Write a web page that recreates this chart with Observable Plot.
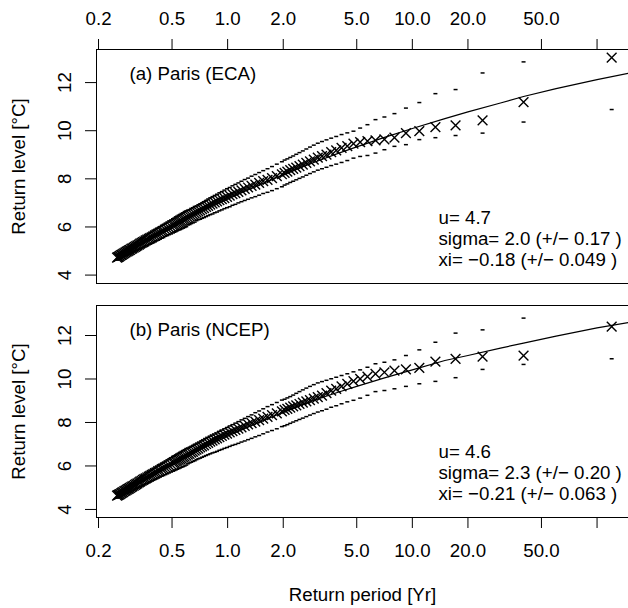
<!DOCTYPE html>
<html>
<head>
<meta charset="utf-8">
<script src="https://cdn.jsdelivr.net/npm/d3@7"></script>
<script src="https://cdn.jsdelivr.net/npm/@observablehq/plot@0.6"></script>
<style>
  html, body { margin: 0; padding: 0; background: #fff; }
  #chart svg { display: block; }
</style>
</head>
<body>
<div id="chart"></div>
<script>
// ---- data ----
const returnPeriod = [
  120, 40, 24, 17.14, 13.33, 10.91, 9.231, 8, 7.059, 6.316, 5.714, 5.217, 4.8, 4.444, 4.138, 3.871, 3.636, 3.429, 3.243, 3.077,
  2.927, 2.791, 2.667, 2.553, 2.449, 2.353, 2.264, 2.182, 2.105, 2.034,
  1.967, 1.846, 1.739, 1.644, 1.558, 1.481, 1.412, 1.348, 1.290, 1.237, 1.188, 1.143, 1.101, 1.062, 1.026,
  0.992, 0.960, 0.930, 0.902, 0.876, 0.851, 0.828, 0.805, 0.784, 0.764, 0.745, 0.727, 0.710, 0.694, 0.678,
  0.663, 0.649, 0.635, 0.622, 0.609, 0.597, 0.585, 0.574, 0.563, 0.553, 0.543, 0.533, 0.524, 0.515, 0.506,
  0.494, 0.482, 0.471, 0.460, 0.449, 0.440, 0.430, 0.421, 0.412, 0.404, 0.396, 0.388, 0.381, 0.374, 0.367,
  0.360, 0.354, 0.348, 0.342, 0.336, 0.331, 0.325, 0.320, 0.315, 0.310, 0.305, 0.301, 0.296, 0.292, 0.288,
  0.284, 0.280, 0.276, 0.272, 0.268, 0.265, 0.261, 0.258, 0.255, 0.252
];

const ecaLevel = [
  13.04, 11.19, 10.43, 10.22, 10.15, 9.98, 9.90, 9.71, 9.64, 9.60, 9.57, 9.53, 9.46, 9.36, 9.29, 9.18, 9.11, 9.01, 8.94, 8.88,
  8.80, 8.73, 8.66, 8.59, 8.53, 8.47, 8.41, 8.36, 8.30, 8.25,
  8.19, 8.11, 8.03, 7.96, 7.90, 7.83, 7.76, 7.71, 7.64, 7.58, 7.52, 7.46, 7.41, 7.36, 7.30,
  7.25, 7.20, 7.16, 7.11, 7.06, 7.02, 6.97, 6.93, 6.88, 6.83, 6.78, 6.74, 6.69, 6.65, 6.61,
  6.56, 6.52, 6.48, 6.44, 6.40, 6.36, 6.33, 6.29, 6.25, 6.22, 6.19, 6.16, 6.13, 6.09, 6.06,
  6.01, 5.97, 5.93, 5.89, 5.84, 5.81, 5.76, 5.72, 5.69, 5.65, 5.61, 5.57, 5.54, 5.51, 5.47,
  5.44, 5.40, 5.37, 5.34, 5.31, 5.27, 5.23, 5.20, 5.17, 5.14, 5.11, 5.09, 5.05, 5.03, 5.00,
  4.97, 4.94, 4.91, 4.88, 4.85, 4.83, 4.80, 4.77, 4.75, 4.73
];
const ecaUpper = [
  13.90, 12.86, 12.40, 11.71, 11.54, 11.17, 10.94, 10.71, 10.57, 10.46, 10.25, 10.11, 9.98, 9.91, 9.84, 9.76, 9.69, 9.62, 9.55, 9.48,
  9.40, 9.32, 9.24, 9.16, 9.09, 9.02, 8.95, 8.89, 8.83, 8.78,
  8.71, 8.61, 8.51, 8.42, 8.34, 8.26, 8.18, 8.11, 8.03, 7.97, 7.90, 7.83, 7.77, 7.71, 7.64,
  7.59, 7.53, 7.47, 7.42, 7.36, 7.31, 7.26, 7.21, 7.16, 7.10, 7.05, 7.00, 6.96, 6.92, 6.87,
  6.85, 6.80, 6.77, 6.72, 6.70, 6.67, 6.64, 6.59, 6.56, 6.52, 6.49, 6.45, 6.42, 6.37, 6.34,
  6.29, 6.25, 6.20, 6.15, 6.10, 6.06, 6.01, 5.96, 5.93, 5.88, 5.84, 5.79, 5.76, 5.72, 5.68,
  5.63, 5.59, 5.55, 5.52, 5.48, 5.44, 5.39, 5.36, 5.33, 5.29, 5.26, 5.24, 5.19, 5.17, 5.13,
  5.09, 5.06, 5.03, 5.00, 4.97, 4.94, 4.91, 4.87, 4.85, 4.83
];
const ecaLower = [
  10.88, 10.36, 9.90, 9.80, 9.71, 9.63, 9.42, 9.35, 9.21, 9.07, 8.97, 8.93, 8.86, 8.76, 8.68, 8.61, 8.55, 8.48, 8.42, 8.36,
  8.29, 8.22, 8.15, 8.08, 8.02, 7.96, 7.90, 7.85, 7.79, 7.74,
  7.67, 7.59, 7.51, 7.44, 7.39, 7.32, 7.26, 7.21, 7.15, 7.10, 7.05, 7.00, 6.94, 6.90, 6.84,
  6.80, 6.76, 6.71, 6.67, 6.62, 6.59, 6.54, 6.51, 6.47, 6.43, 6.39, 6.36, 6.32, 6.30, 6.26,
  6.20, 6.17, 6.14, 6.10, 6.08, 6.01, 5.98, 5.95, 5.92, 5.89, 5.87, 5.84, 5.81, 5.78, 5.75,
  5.71, 5.68, 5.64, 5.61, 5.56, 5.53, 5.49, 5.45, 5.43, 5.39, 5.35, 5.32, 5.29, 5.27, 5.23,
  5.22, 5.18, 5.15, 5.13, 5.10, 5.08, 5.05, 5.02, 5.00, 4.97, 4.94, 4.92, 4.89, 4.87, 4.84,
  4.83, 4.80, 4.78, 4.76, 4.73, 4.71, 4.68, 4.66, 4.64, 4.62
];

const ncepLevel = [
  12.41, 11.08, 11.03, 10.93, 10.80, 10.51, 10.44, 10.39, 10.31, 10.24, 10.11, 10.01, 9.90, 9.78, 9.66, 9.55, 9.47, 9.35, 9.24, 9.17,
  9.10, 9.03, 8.97, 8.91, 8.85, 8.79, 8.74, 8.68, 8.63, 8.58,
  8.51, 8.42, 8.34, 8.26, 8.18, 8.11, 8.04, 7.97, 7.91, 7.84, 7.78, 7.72, 7.66, 7.60, 7.54,
  7.49, 7.44, 7.38, 7.33, 7.27, 7.22, 7.17, 7.12, 7.06, 7.01, 6.95, 6.90, 6.85, 6.80, 6.75,
  6.70, 6.65, 6.61, 6.56, 6.52, 6.47, 6.43, 6.39, 6.35, 6.31, 6.28, 6.24, 6.21, 6.17, 6.14,
  6.08, 6.03, 5.98, 5.94, 5.89, 5.85, 5.80, 5.76, 5.71, 5.67, 5.63, 5.59, 5.55, 5.51, 5.47,
  5.43, 5.39, 5.36, 5.32, 5.28, 5.24, 5.20, 5.16, 5.13, 5.09, 5.06, 5.03, 4.99, 4.96, 4.93,
  4.90, 4.87, 4.84, 4.80, 4.77, 4.74, 4.71, 4.68, 4.66, 4.64
];
const ncepUpper = [
  13.95, 12.80, 12.26, 12.11, 11.69, 11.34, 11.08, 10.88, 10.77, 10.70, 10.54, 10.42, 10.33, 10.24, 10.16, 10.08, 10.01, 9.94, 9.88, 9.82,
  9.74, 9.66, 9.58, 9.50, 9.42, 9.34, 9.26, 9.19, 9.13, 9.07,
  9.03, 8.92, 8.82, 8.73, 8.63, 8.53, 8.45, 8.35, 8.27, 8.19, 8.12, 8.04, 7.97, 7.90, 7.84,
  7.77, 7.71, 7.65, 7.59, 7.52, 7.47, 7.42, 7.37, 7.31, 7.26, 7.20, 7.16, 7.10, 7.06, 7.01,
  6.99, 6.94, 6.90, 6.86, 6.82, 6.80, 6.75, 6.71, 6.67, 6.63, 6.59, 6.55, 6.51, 6.47, 6.44,
  6.38, 6.32, 6.27, 6.22, 6.16, 6.12, 6.06, 6.01, 5.96, 5.91, 5.87, 5.82, 5.78, 5.73, 5.69,
  5.63, 5.59, 5.55, 5.51, 5.46, 5.42, 5.37, 5.33, 5.30, 5.25, 5.22, 5.19, 5.14, 5.11, 5.07,
  5.03, 5.00, 4.96, 4.92, 4.89, 4.85, 4.82, 4.78, 4.76, 4.73
];
const ncepLower = [
  10.93, 10.67, 10.44, 10.06, 9.89, 9.78, 9.66, 9.55, 9.47, 9.42, 9.25, 9.12, 9.02, 8.95, 8.86, 8.77, 8.70, 8.61, 8.54, 8.48,
  8.41, 8.34, 8.27, 8.20, 8.14, 8.08, 8.02, 7.96, 7.90, 7.85,
  7.81, 7.71, 7.63, 7.56, 7.48, 7.40, 7.34, 7.27, 7.21, 7.15, 7.10, 7.04, 6.99, 6.95, 6.90,
  6.85, 6.81, 6.76, 6.72, 6.67, 6.63, 6.60, 6.56, 6.52, 6.48, 6.44, 6.40, 6.36, 6.33, 6.29,
  6.24, 6.21, 6.17, 6.14, 6.10, 6.04, 6.00, 5.97, 5.94, 5.91, 5.88, 5.85, 5.82, 5.79, 5.76,
  5.72, 5.68, 5.64, 5.60, 5.56, 5.53, 5.49, 5.45, 5.41, 5.38, 5.34, 5.31, 5.27, 5.24, 5.20,
  5.18, 5.14, 5.12, 5.08, 5.05, 5.03, 5.00, 4.96, 4.94, 4.90, 4.88, 4.85, 4.81, 4.79, 4.76,
  4.75, 4.72, 4.70, 4.66, 4.64, 4.61, 4.59, 4.56, 4.55, 4.52
];

// fitted return-level curves
const curvePeriod = [0.25, 0.3, 0.35, 0.4, 0.5, 0.6, 0.7, 0.8, 1, 1.2, 1.5, 2, 2.5, 3, 4, 5, 7, 10, 15, 20, 30, 40, 60, 100, 150];
const ecaCurve  = [4.70, 5.06, 5.36, 5.60, 6.00, 6.32, 6.58, 6.80, 7.15, 7.43, 7.76, 8.17, 8.47, 8.71, 9.07, 9.33, 9.71, 10.09, 10.50, 10.78, 11.15, 11.42, 11.75, 12.12, 12.40];
const ncepCurve = [4.60, 5.01, 5.35, 5.63, 6.08, 6.44, 6.73, 6.97, 7.37, 7.67, 8.03, 8.47, 8.80, 9.05, 9.40, 9.66, 10.04, 10.42, 10.85, 11.08, 11.42, 11.65, 11.97, 12.35, 12.60];

// ticks and labels
const xTicks = [0.2, 0.5, 1, 2, 5, 10, 20, 50, 100];
const xTickLabels = ["0.2", "0.5", "1.0", "2.0", "5.0", "10.0", "20.0", "50.0", ""];
const yTicks = [4, 6, 8, 10, 12];
const yTickLabels = ["4", "6", "8", "10", "12"];
const panelTitles = ["(a) Paris (ECA)", "(b) Paris (NCEP)"];
const ecaParams = ["u= 4.7", "sigma= 2.0 (+/\u2212 0.17 )", "xi= \u22120.18 (+/\u2212 0.049 )"];
const ncepParams = ["u= 4.6", "sigma= 2.3 (+/\u2212 0.20 )", "xi= \u22120.21 (+/\u2212 0.063 )"];
const yTitle = "Return level [\u00B0C]";
const xTitle = "Return period [Yr]";

// ---- drawing ----
const xDomain = [0.195, 148];
const xTickRows = xTicks.map((t, i) => ({t, label: xTickLabels[i]}));
const yTickRows = yTicks.map((t, i) => ({t, label: yTickLabels[i]}));
const FONT = "'Liberation Sans', Arial, Helvetica, sans-serif";
const FS = 18.7;

// an R-like "-" plotting character
const dash = {
  draw(context, size) {
    const h = Math.sqrt(size / Math.PI);
    context.moveTo(-h, 0);
    context.lineTo(h, 0);
  }
};

function panel({level, upper, lower, curve, title, params, yDomain, height, marginTop, marginBottom, axisAnchor, showXTitle}) {
  const rows = returnPeriod.map((T, i) => ({T, level: level[i], upper: upper[i], lower: lower[i]}));
  const curveRows = curvePeriod.map((T, i) => ({T, level: curve[i]}));
  const top = axisAnchor === "top";
  const marks = [
    Plot.dot(rows, {x: "T", y: "level", symbol: "times", r: 4.5, stroke: "black", strokeWidth: 1.4, fill: "none", clip: true}),
    Plot.dot(rows, {x: "T", y: "upper", symbol: dash, r: 2, stroke: "black", strokeWidth: 1.5, fill: "none", clip: true}),
    Plot.dot(rows, {x: "T", y: "lower", symbol: dash, r: 2, stroke: "black", strokeWidth: 1.5, fill: "none", clip: true}),
    Plot.line(curveRows, {x: "T", y: "level", stroke: "black", strokeWidth: 1.2, clip: true}),
    Plot.ruleY([yDomain[0], yDomain[1]], {stroke: "black", strokeWidth: 1}),
    Plot.ruleX([xDomain[0]], {stroke: "black", strokeWidth: 1}),
    Plot.axisX(xTicks, {anchor: axisAnchor, tickSize: 11, tickFormat: () => "", label: null, stroke: "black"}),
    Plot.text(xTickRows, {x: "t", text: "label", frameAnchor: top ? "top" : "bottom", dy: top ? -25 : 26, lineAnchor: top ? "bottom" : "top", textAnchor: "middle", fontSize: FS, fill: "black"}),
    Plot.axisY(yTicks, {anchor: "left", tickSize: 11, tickFormat: () => "", label: null, stroke: "black"}),
    Plot.text(yTickRows, {y: "t", text: "label", frameAnchor: "left", dx: -31, rotate: -90, lineAnchor: "middle", textAnchor: "middle", fontSize: FS, fill: "black"}),
    Plot.text([yTitle], {frameAnchor: "left", dx: -77, rotate: -90, lineAnchor: "middle", textAnchor: "middle", text: d => d, fontSize: FS, fill: "black"}),
    Plot.text([title], {frameAnchor: "top-left", dx: 33, dy: 30.5, lineAnchor: "bottom", textAnchor: "start", text: d => d, fontSize: FS, fill: "black"}),
    Plot.text([params.join("\n")], {frameAnchor: "bottom-left", dx: 342, dy: -17.5, lineAnchor: "bottom", textAnchor: "start", lineHeight: 21 / FS, text: d => d, fontSize: FS, fill: "black"})
  ];
  if (showXTitle) {
    marks.push(Plot.text([xTitle], {frameAnchor: "bottom", dy: 83, lineAnchor: "bottom", textAnchor: "middle", text: d => d, fontSize: FS, fill: "black"}));
  }
  return Plot.plot({
    width: 628,
    height,
    marginLeft: 96,
    marginRight: 0,
    marginTop,
    marginBottom,
    style: {fontFamily: FONT, fontSize: FS + "px", color: "black", background: "white", overflow: "visible"},
    x: {type: "log", domain: xDomain, axis: null},
    y: {domain: yDomain, axis: null},
    marks
  });
}

const chart = document.getElementById("chart");
chart.append(panel({
  level: ecaLevel, upper: ecaUpper, lower: ecaLower, curve: ecaCurve,
  title: panelTitles[0], params: ecaParams,
  yDomain: [3.65, 13.375], height: 294, marginTop: 49, marginBottom: 11,
  axisAnchor: "top", showXTitle: false
}));
chart.append(panel({
  level: ncepLevel, upper: ncepUpper, lower: ncepLower, curve: ncepCurve,
  title: panelTitles[1], params: ncepParams,
  yDomain: [3.63, 13.38], height: 314, marginTop: 11, marginBottom: 91,
  axisAnchor: "bottom", showXTitle: true
}));
</script>
</body>
</html>
